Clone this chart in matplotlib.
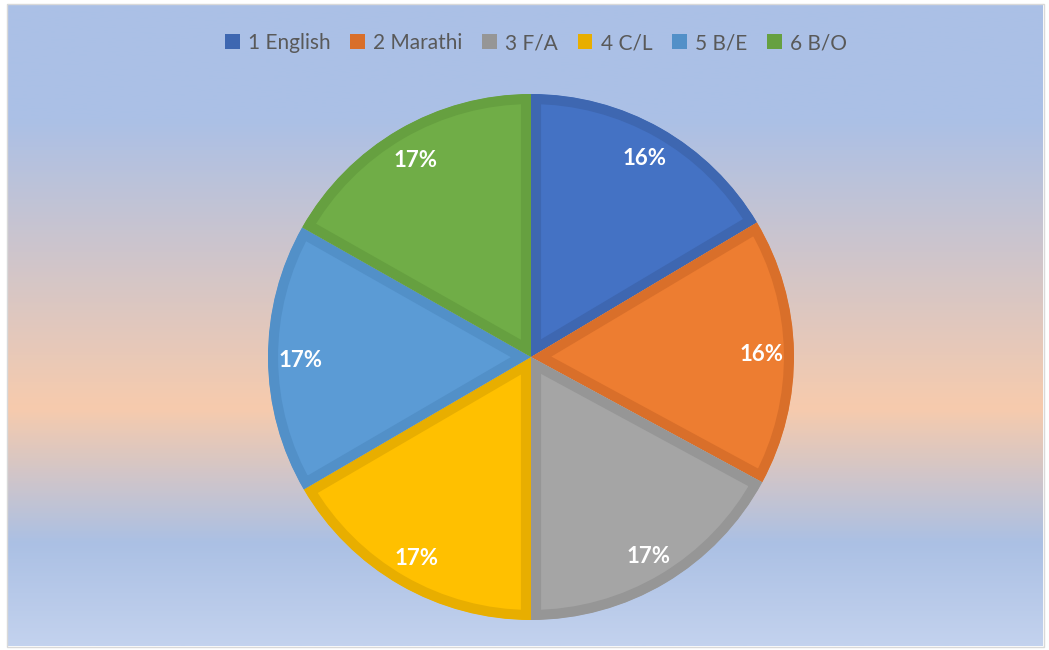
import numpy as np
import matplotlib
matplotlib.use("Agg")
import matplotlib.pyplot as plt
from matplotlib.colors import LinearSegmentedColormap
from matplotlib.patches import Rectangle, Patch

# ---- data ----
categories = ["1 English", "2 Marathi", "3 F/A", "4 C/L", "5 B/E", "6 B/O"]
shares = [16.45, 16.45, 17.1, 16.6, 16.6, 16.8]
labels = ["16%", "16%", "17%", "17%", "17%", "17%"]
fill_colors = ["#4472C4", "#ED7D31", "#A5A5A5", "#FFC000", "#5B9BD5", "#70AD47"]
edge_colors = ["#3E67B1", "#D96F2A", "#969696", "#E8AE00", "#5290C8", "#66A040"]

W, H = 1049, 650
fig = plt.figure(figsize=(W / 100, H / 100), dpi=100)
fig.patch.set_facecolor("white")

# background gradient panel
bg = fig.add_axes([7 / W, 4 / H, (1043 - 7) / W, (646 - 4) / H])
bg.set_axis_off()
stops = [(0.0, "#abc1e7"), (0.18, "#abc0e6"), (0.63, "#f7cbad"),
         (0.84, "#abc0e4"), (1.0, "#c3d2ee")]
cmap = LinearSegmentedColormap.from_list("bg", stops)
grad = np.linspace(0, 1, 512).reshape(-1, 1)
bg.imshow(grad, aspect="auto", cmap=cmap, extent=[0, 1, 0, 1], origin="upper")
bg.set_xlim(0, 1); bg.set_ylim(0, 1)
fig.patches.append(Rectangle((6.5 / W, 3.5 / H), (1043.5 - 6.5) / W, (646.5 - 3.5) / H,
                             transform=fig.transFigure, fill=False,
                             edgecolor="#d9d9d9", linewidth=1.0, zorder=10))

# pie axes
cx, cy, r = 531, 357, 263
ax = fig.add_axes([(cx - r) / W, (H - cy - r) / H, 2 * r / W, 2 * r / H])
ax.set_axis_off()
wedges, texts = ax.pie(shares, colors=fill_colors, startangle=90, counterclock=False,
                       labels=labels, labeldistance=0.875, radius=1.0,
                       textprops=dict(color="white", fontsize=16, fontweight="bold",
                                      family="Lato", ha="center",
                                      va="center_baseline"))
for w, ec in zip(wedges, edge_colors):
    w.set_edgecolor(ec)
    w.set_linewidth(14.5)
    w.set_clip_on(True)
    w.set_clip_path(w)
ax.set_xlim(-1, 1); ax.set_ylim(-1, 1)
ax.set_aspect("equal")

# legend
handles = [Patch(facecolor=ec, edgecolor="none") for ec in edge_colors]
fig.legend(handles, categories, loc="center", bbox_to_anchor=(536 / W, 1 - 43 / H),
           ncol=6, frameon=False, handlelength=0.7, handleheight=0.7,
           handletextpad=0.4, columnspacing=0.95,
           prop=dict(family="Lato", size=15), labelcolor="#595959")

fig.savefig("out.png", dpi=100, facecolor="white")
